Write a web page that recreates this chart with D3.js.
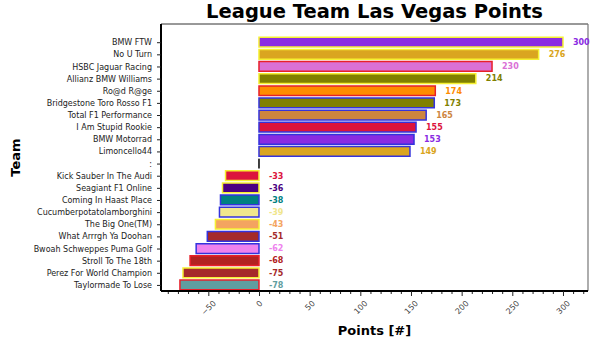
<!DOCTYPE html>
<html>
<head>
<meta charset="utf-8">
<script src="https://cdn.jsdelivr.net/npm/d3@7"></script>
<style>
  html, body { margin: 0; padding: 0; background: #fff; }
  svg { display: block; font-family: "DejaVu Sans", sans-serif; }
</style>
</head>
<body>
<svg id="chart" width="600" height="340"></svg>
<script>
const teams = ["BMW FTW", "No U Turn", "HSBC Jaguar Racing", "Allianz BMW Williams", "Ro@d R@ge",
  "Bridgestone Toro Rosso F1", "Total F1 Performance", "I Am Stupid Rookie", "BMW Motorrad", "Limoncello44",
  ":", "Kick Sauber In The Audi", "Seagiant F1 Online", "Coming In Haast Place", "Cucumberpotatolamborghini",
  "The Big One(TM)", "What Arrrgh Ya Doohan", "Bwoah Schweppes Puma Golf", "Stroll To The 18th",
  "Perez For World Champion", "Taylormade To Lose"];
const points = [300, 276, 230, 214, 174, 173, 165, 155, 153, 149, 0, -33, -36, -38, -39, -43, -51, -62, -68, -75, -78];
const fillColors = ["#8a2be2", "#daa520", "#da70d6", "#808000", "#ff8c00", "#808000", "#cd853f", "#dc143c", "#8a2be2", "#daa520",
  "#000000", "#dc143c", "#4b0082", "#008080", "#f0e68c", "#f4a460", "#a52a2a", "#ee82ee", "#b22222", "#a52a2a", "#5f9ea0"];
const edgeColors = ["#f5f032", "#f5f032", "#e8202a", "#f5f032", "#e8202a", "#3333dd", "#3333dd", "#3333dd", "#3333dd", "#3333dd",
  "#000000", "#f5f032", "#f5f032", "#3333dd", "#3333dd", "#f5f032", "#3333dd", "#3333dd", "#e8202a", "#f5f032", "#e8202a"];
const xTicks = [-50, 0, 50, 100, 150, 200, 250, 300];
const xMinorTicks = d3.range(-90, 330, 10);

const svg = d3.select("#chart");
const L = 161, R = 588, T = 24, B = 291;

const x = d3.scaleLinear().domain([-96.7, 324.7]).range([L, R]);
const y = d3.scaleLinear().domain([-1.5, teams.length - 0.5]).range([T, B]);
const bandH = 0.8 * (y(1) - y(0));

// frame (top and right spines)
svg.append("line").attr("x1", L).attr("x2", R).attr("y1", T).attr("y2", T).attr("stroke", "#333").attr("stroke-width", 1);
svg.append("line").attr("x1", R).attr("x2", R).attr("y1", T).attr("y2", B).attr("stroke", "#777").attr("stroke-width", 1.2);

// bars
const bars = svg.append("g");
teams.forEach((t, i) => {
  const x0 = x(Math.min(0, points[i])), w = Math.abs(x(points[i]) - x(0));
  const y0 = y(i) - bandH / 2;
  bars.append("path")
    .attr("d", `M${x0},${y0}h${w}v${bandH}h${-w}Z`)
    .attr("fill", fillColors[i])
    .attr("stroke", edgeColors[i])
    .attr("stroke-width", points[i] === 0 ? 1 : 1.5);
  if (points[i] !== 0) {
    svg.append("text")
      .attr("x", x(Math.max(0, points[i])) + 10)
      .attr("y", y(i))
      .attr("dy", "0.35em")
      .attr("font-size", 8)
      .attr("font-weight", "bold")
      .attr("fill", fillColors[i])
      .text(points[i]);
  }
});

// left axis
const yAxis = d3.axisLeft(y).tickValues(d3.range(teams.length)).tickFormat(i => teams[i]).tickSize(4).tickPadding(5).tickSizeOuter(0);
const gy = svg.append("g").attr("transform", `translate(${L},0)`).call(yAxis);
gy.select(".domain").attr("stroke", "#000").attr("stroke-width", 2).attr("d", `M0,${T}V${B}`);
gy.selectAll(".tick line").attr("stroke", "#222");
gy.selectAll(".tick text").attr("font-size", 8).attr("fill", "#222").attr("font-family", "DejaVu Sans, sans-serif");

// bottom axis minor ticks
const gMinor = svg.append("g").attr("transform", `translate(0,${B})`)
  .call(d3.axisBottom(x).tickValues(xMinorTicks.filter(v => v % 50 !== 0)).tickSize(3).tickFormat(""));
gMinor.select(".domain").remove();
gMinor.selectAll(".tick line").attr("stroke", "#222");

// bottom axis major
const xAxis = d3.axisBottom(x).tickValues(xTicks).tickSize(5).tickFormat(d => d3.format("d")(d).replace("-", "\u2212")).tickSizeOuter(0);
const gx = svg.append("g").attr("transform", `translate(0,${B})`).call(xAxis);
gx.select(".domain").attr("stroke", "#000").attr("stroke-width", 2).attr("d", `M${L},0H${R}`);
gx.selectAll(".tick line").attr("stroke", "#222");
gx.selectAll(".tick text").each(function() {
  const t = d3.select(this);
  t.attr("font-size", 8).attr("fill", "#444").attr("font-family", "DejaVu Sans, sans-serif")
   .attr("dy", null).attr("y", null).attr("text-anchor", "middle").attr("dominant-baseline", "central");
  const w = this.getComputedTextLength(), h = 6;
  const half = (w + h) * Math.SQRT1_2 / 2;
  t.attr("transform", `translate(0,${9 + half}) rotate(-45)`);
});

// title & labels
svg.append("text").attr("x", (L + R) / 2).attr("y", 18).attr("text-anchor", "middle")
  .attr("font-size", 19.5).attr("font-weight", "bold").attr("fill", "#000").text("League Team Las Vegas Points");
svg.append("text").attr("x", (L + R) / 2).attr("y", 335).attr("text-anchor", "middle")
  .attr("font-size", 13).attr("font-weight", "bold").attr("fill", "#000").text("Points [#]");
svg.append("text").attr("transform", `translate(20,${(T + B) / 2}) rotate(-90)`).attr("text-anchor", "middle")
  .attr("font-size", 13).attr("font-weight", "bold").attr("fill", "#000").text("Team");
</script>
</body>
</html>
